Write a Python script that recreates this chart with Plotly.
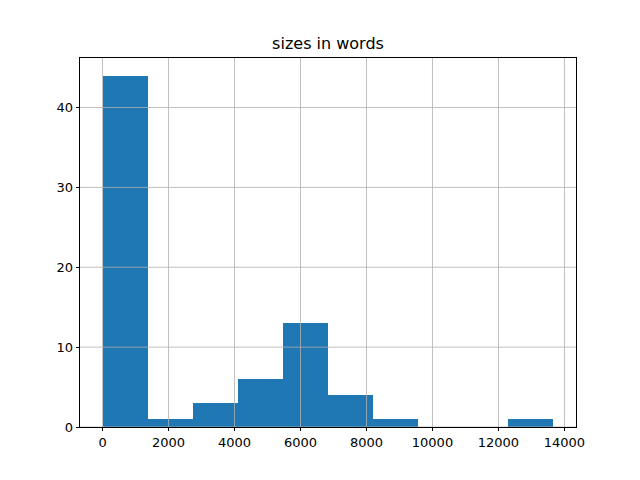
import plotly.graph_objects as go

# histogram of document sizes (10 bins, pandas default)
bin_edges = [0, 1367, 2733, 4100, 5467, 6833, 8200, 9567, 10933, 12300, 13667]
counts = [44, 1, 3, 6, 13, 4, 1, 0, 0, 1]

x_ticks = [0, 2000, 4000, 6000, 8000, 10000, 12000, 14000]
y_ticks = [0, 10, 20, 30, 40]

centers = [(a + b) / 2 for a, b in zip(bin_edges[:-1], bin_edges[1:])]
widths = [b - a for a, b in zip(bin_edges[:-1], bin_edges[1:])]

fig = go.Figure(go.Bar(
    x=centers, y=counts, width=widths,
    marker=dict(color="#1f77b4", line=dict(width=0)),
    showlegend=False,
))

span = bin_edges[-1] - bin_edges[0]
x_range = [bin_edges[0] - span * 0.05, bin_edges[-1] + span * 0.05]
y_range = [0, max(counts) * 1.05]

# matplotlib draws grid over the bars
shapes = []
for t in x_ticks:
    shapes.append(dict(type="line", xref="x", yref="paper", x0=t, x1=t, y0=0, y1=1,
                       line=dict(color="#b0b0b0", width=0.8), layer="above"))
for t in y_ticks:
    shapes.append(dict(type="line", xref="paper", yref="y", x0=0, x1=1, y0=t, y1=t,
                       line=dict(color="#b0b0b0", width=0.8), layer="above"))

axis_style = dict(
    showgrid=False, zeroline=False,
    showline=True, mirror=True, linecolor="black", linewidth=0.8,
    ticks="outside", ticklen=3.5, tickwidth=0.8, tickcolor="black",
    tickfont=dict(family="DejaVu Sans", size=13, color="black"),
)

# page body adds an 8px offset, so the figure is sized a bit smaller
fig.update_layout(
    width=632, height=472,
    paper_bgcolor="white", plot_bgcolor="white",
    margin=dict(l=72, r=64, t=50, b=53),
    title=dict(text="sizes in words", x=(72 + 496 / 2) / 632, xanchor="center",
               y=1 - 35 / 472, yanchor="middle",
               font=dict(family="DejaVu Sans", size=16, color="black")),
    xaxis=dict(range=x_range, tickvals=x_ticks, ticktext=[str(t) for t in x_ticks], **axis_style),
    yaxis=dict(range=y_range, tickvals=y_ticks, **axis_style),
    bargap=0,
    shapes=shapes,
)

fig.write_html("out.html")
